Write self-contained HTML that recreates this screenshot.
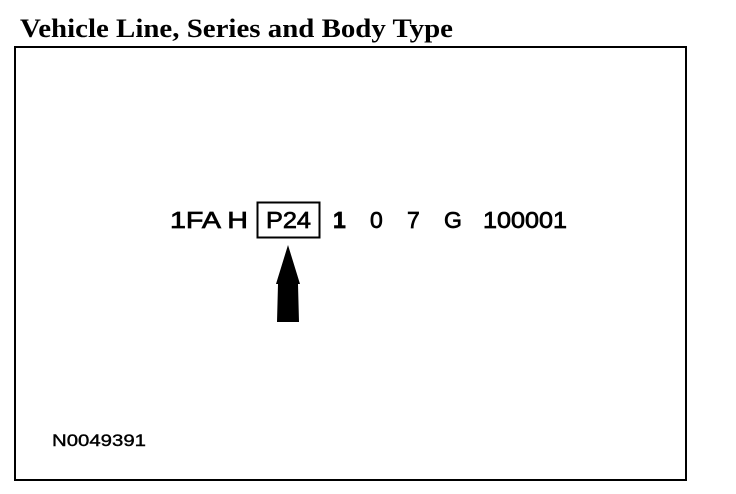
<!DOCTYPE html>
<html><head><style>html,body{margin:0;padding:0;background:#fff;}svg{display:block}</style></head>
<body>
<svg width="736" height="494" viewBox="0 0 736 494" xmlns="http://www.w3.org/2000/svg">
<text x="20" y="37" font-family="Liberation Serif, serif" font-weight="bold" font-size="26" textLength="433" lengthAdjust="spacingAndGlyphs">Vehicle Line, Series and Body Type</text>
<rect x="15" y="47" width="671" height="433" fill="none" stroke="#000" stroke-width="2"/>
<g font-family="Liberation Sans, Arial, sans-serif" font-size="23" fill="#000" stroke="#000" stroke-width="0.7">
<text x="170" y="228" textLength="78" lengthAdjust="spacingAndGlyphs">1FA H</text>
<text x="266" y="228" textLength="45" lengthAdjust="spacingAndGlyphs">P24</text>
<text x="333" y="228" font-weight="bold">1</text>
<text x="370" y="228">0</text>
<text x="407" y="228">7</text>
<text x="444" y="228">G</text>
<text x="483" y="228" textLength="84" lengthAdjust="spacingAndGlyphs">100001</text>
</g>
<rect x="257.5" y="202.5" width="62" height="35" fill="none" stroke="#000" stroke-width="2"/>
<polygon points="288,245 300,284 298,284 299,322 277,322 278,284 276,284" fill="#000"/>
<text x="52" y="446" font-family="Liberation Sans, Arial, sans-serif" font-size="17" stroke="#000" stroke-width="0.4" textLength="94" lengthAdjust="spacingAndGlyphs">N0049391</text>
</svg>
</body></html>
